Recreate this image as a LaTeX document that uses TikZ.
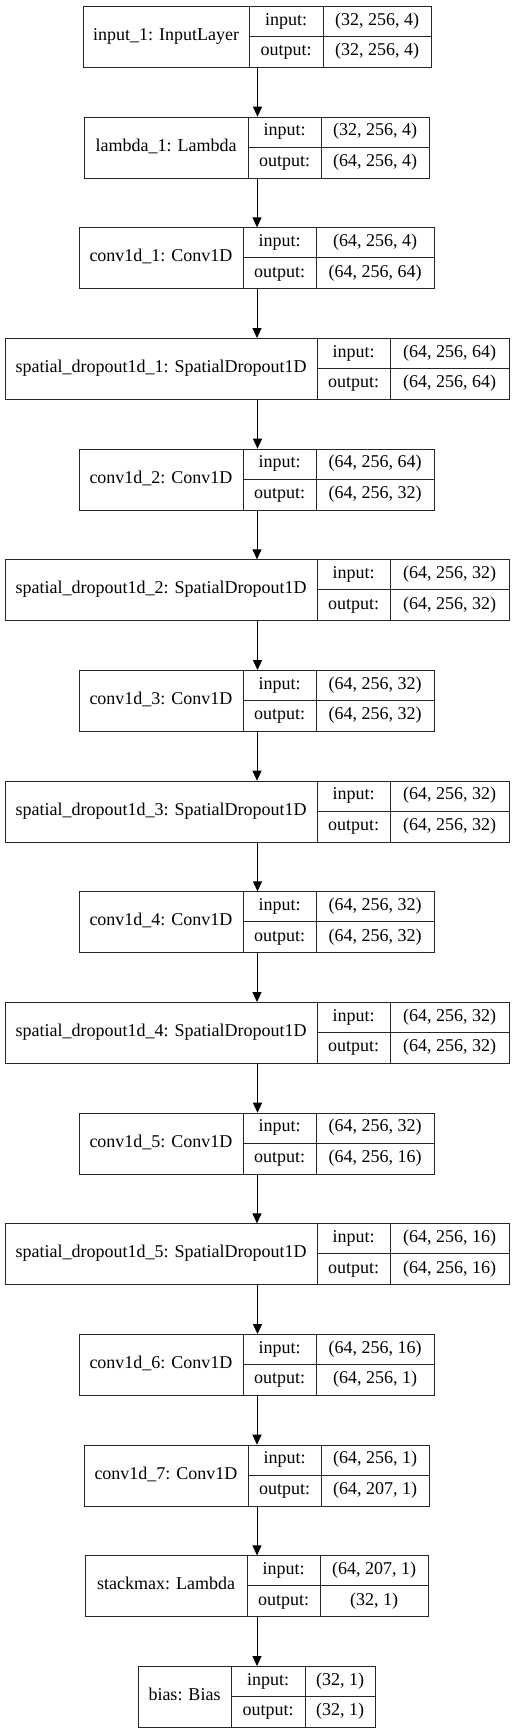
\documentclass[tikz,border=0pt]{standalone}
\usepackage{fontspec}
\setmainfont{Liberation Serif}
\usetikzlibrary{arrows.meta}
\newcommand\mylayer[8]{%
  \pgfmathsetmacro\yt{-(6+110.67*#1)}%
  \pgfmathsetmacro\yb{\yt-61}%
  \pgfmathsetmacro\ym{\yt-30.5}%
  \pgfmathsetmacro\yi{\yt-15.25}%
  \pgfmathsetmacro\yo{\yt-45.75}%
  \node[layerbox, minimum width={#5-#2}, anchor=north west] (L#1) at (#2,\yt) {};
  \draw[cell] (#3,\yt) -- (#3,\yb);
  \draw[cell] (#4,\yt) -- (#4,\yb);
  \draw[cell] (#3,\ym) -- (#5,\ym);
  \node[txt] (N#1) at ({(#2+#3)/2},\ym) {#6};
  \node[txt] (I#1) at ({(#3+#4)/2},\yi) {input:};
  \node[txt] (IV#1) at ({(#4+#5)/2},\yi) {#7};
  \node[txt] (O#1) at ({(#3+#4)/2},\yo) {output:};
  \node[txt] (OV#1) at ({(#4+#5)/2},\yo) {#8};
}
\begin{document}
\begin{tikzpicture}[x=1pt,y=1pt,
  layerbox/.style={draw=black!85, line width=1pt, rectangle, inner sep=0pt, minimum height=61pt},
  cell/.style={draw=black!85, line width=1pt},
  txt/.style={inner sep=0pt, font=\fontsize{18}{20}\selectfont, text height=12pt, text depth=4pt},
  arr/.style={draw=black, line width=1pt, -{Triangle[length=10pt,width=9pt]}}]
\fill[white] (0,0) rectangle (513,-1733);
\useasboundingbox (0,0) rectangle (513,-1733);
\mylayer{0}{83}{249}{323}{431}{input\_1: InputLayer}{(32, 256, 4)}{(32, 256, 4)}
\mylayer{1}{84}{248}{321}{429}{lambda\_1: Lambda}{(32, 256, 4)}{(64, 256, 4)}
\mylayer{2}{79}{243}{316}{434}{conv1d\_1: Conv1D}{(64, 256, 4)}{(64, 256, 64)}
\mylayer{3}{5}{317}{390}{509}{spatial\_dropout1d\_1: SpatialDropout1D}{(64, 256, 64)}{(64, 256, 64)}
\mylayer{4}{79}{243}{316}{434}{conv1d\_2: Conv1D}{(64, 256, 64)}{(64, 256, 32)}
\mylayer{5}{5}{317}{390}{509}{spatial\_dropout1d\_2: SpatialDropout1D}{(64, 256, 32)}{(64, 256, 32)}
\mylayer{6}{79}{243}{316}{434}{conv1d\_3: Conv1D}{(64, 256, 32)}{(64, 256, 32)}
\mylayer{7}{5}{317}{390}{509}{spatial\_dropout1d\_3: SpatialDropout1D}{(64, 256, 32)}{(64, 256, 32)}
\mylayer{8}{79}{243}{316}{434}{conv1d\_4: Conv1D}{(64, 256, 32)}{(64, 256, 32)}
\mylayer{9}{5}{317}{390}{509}{spatial\_dropout1d\_4: SpatialDropout1D}{(64, 256, 32)}{(64, 256, 32)}
\mylayer{10}{79}{243}{316}{434}{conv1d\_5: Conv1D}{(64, 256, 32)}{(64, 256, 16)}
\mylayer{11}{5}{317}{390}{509}{spatial\_dropout1d\_5: SpatialDropout1D}{(64, 256, 16)}{(64, 256, 16)}
\mylayer{12}{79}{243}{316}{434}{conv1d\_6: Conv1D}{(64, 256, 16)}{(64, 256, 1)}
\mylayer{13}{84}{248}{321}{429}{conv1d\_7: Conv1D}{(64, 256, 1)}{(64, 207, 1)}
\mylayer{14}{85}{247}{320}{428}{stackmax: Lambda}{(64, 207, 1)}{(32, 1)}
\mylayer{15}{138}{231}{305}{375}{bias: Bias}{(32, 1)}{(32, 1)}
\foreach \i [evaluate=\i as \j using int(\i+1)] in {0,...,14}{
  \draw[arr] (L\i.south) -- (L\i.south |- L\j.north);
}
\end{tikzpicture}
\end{document}
